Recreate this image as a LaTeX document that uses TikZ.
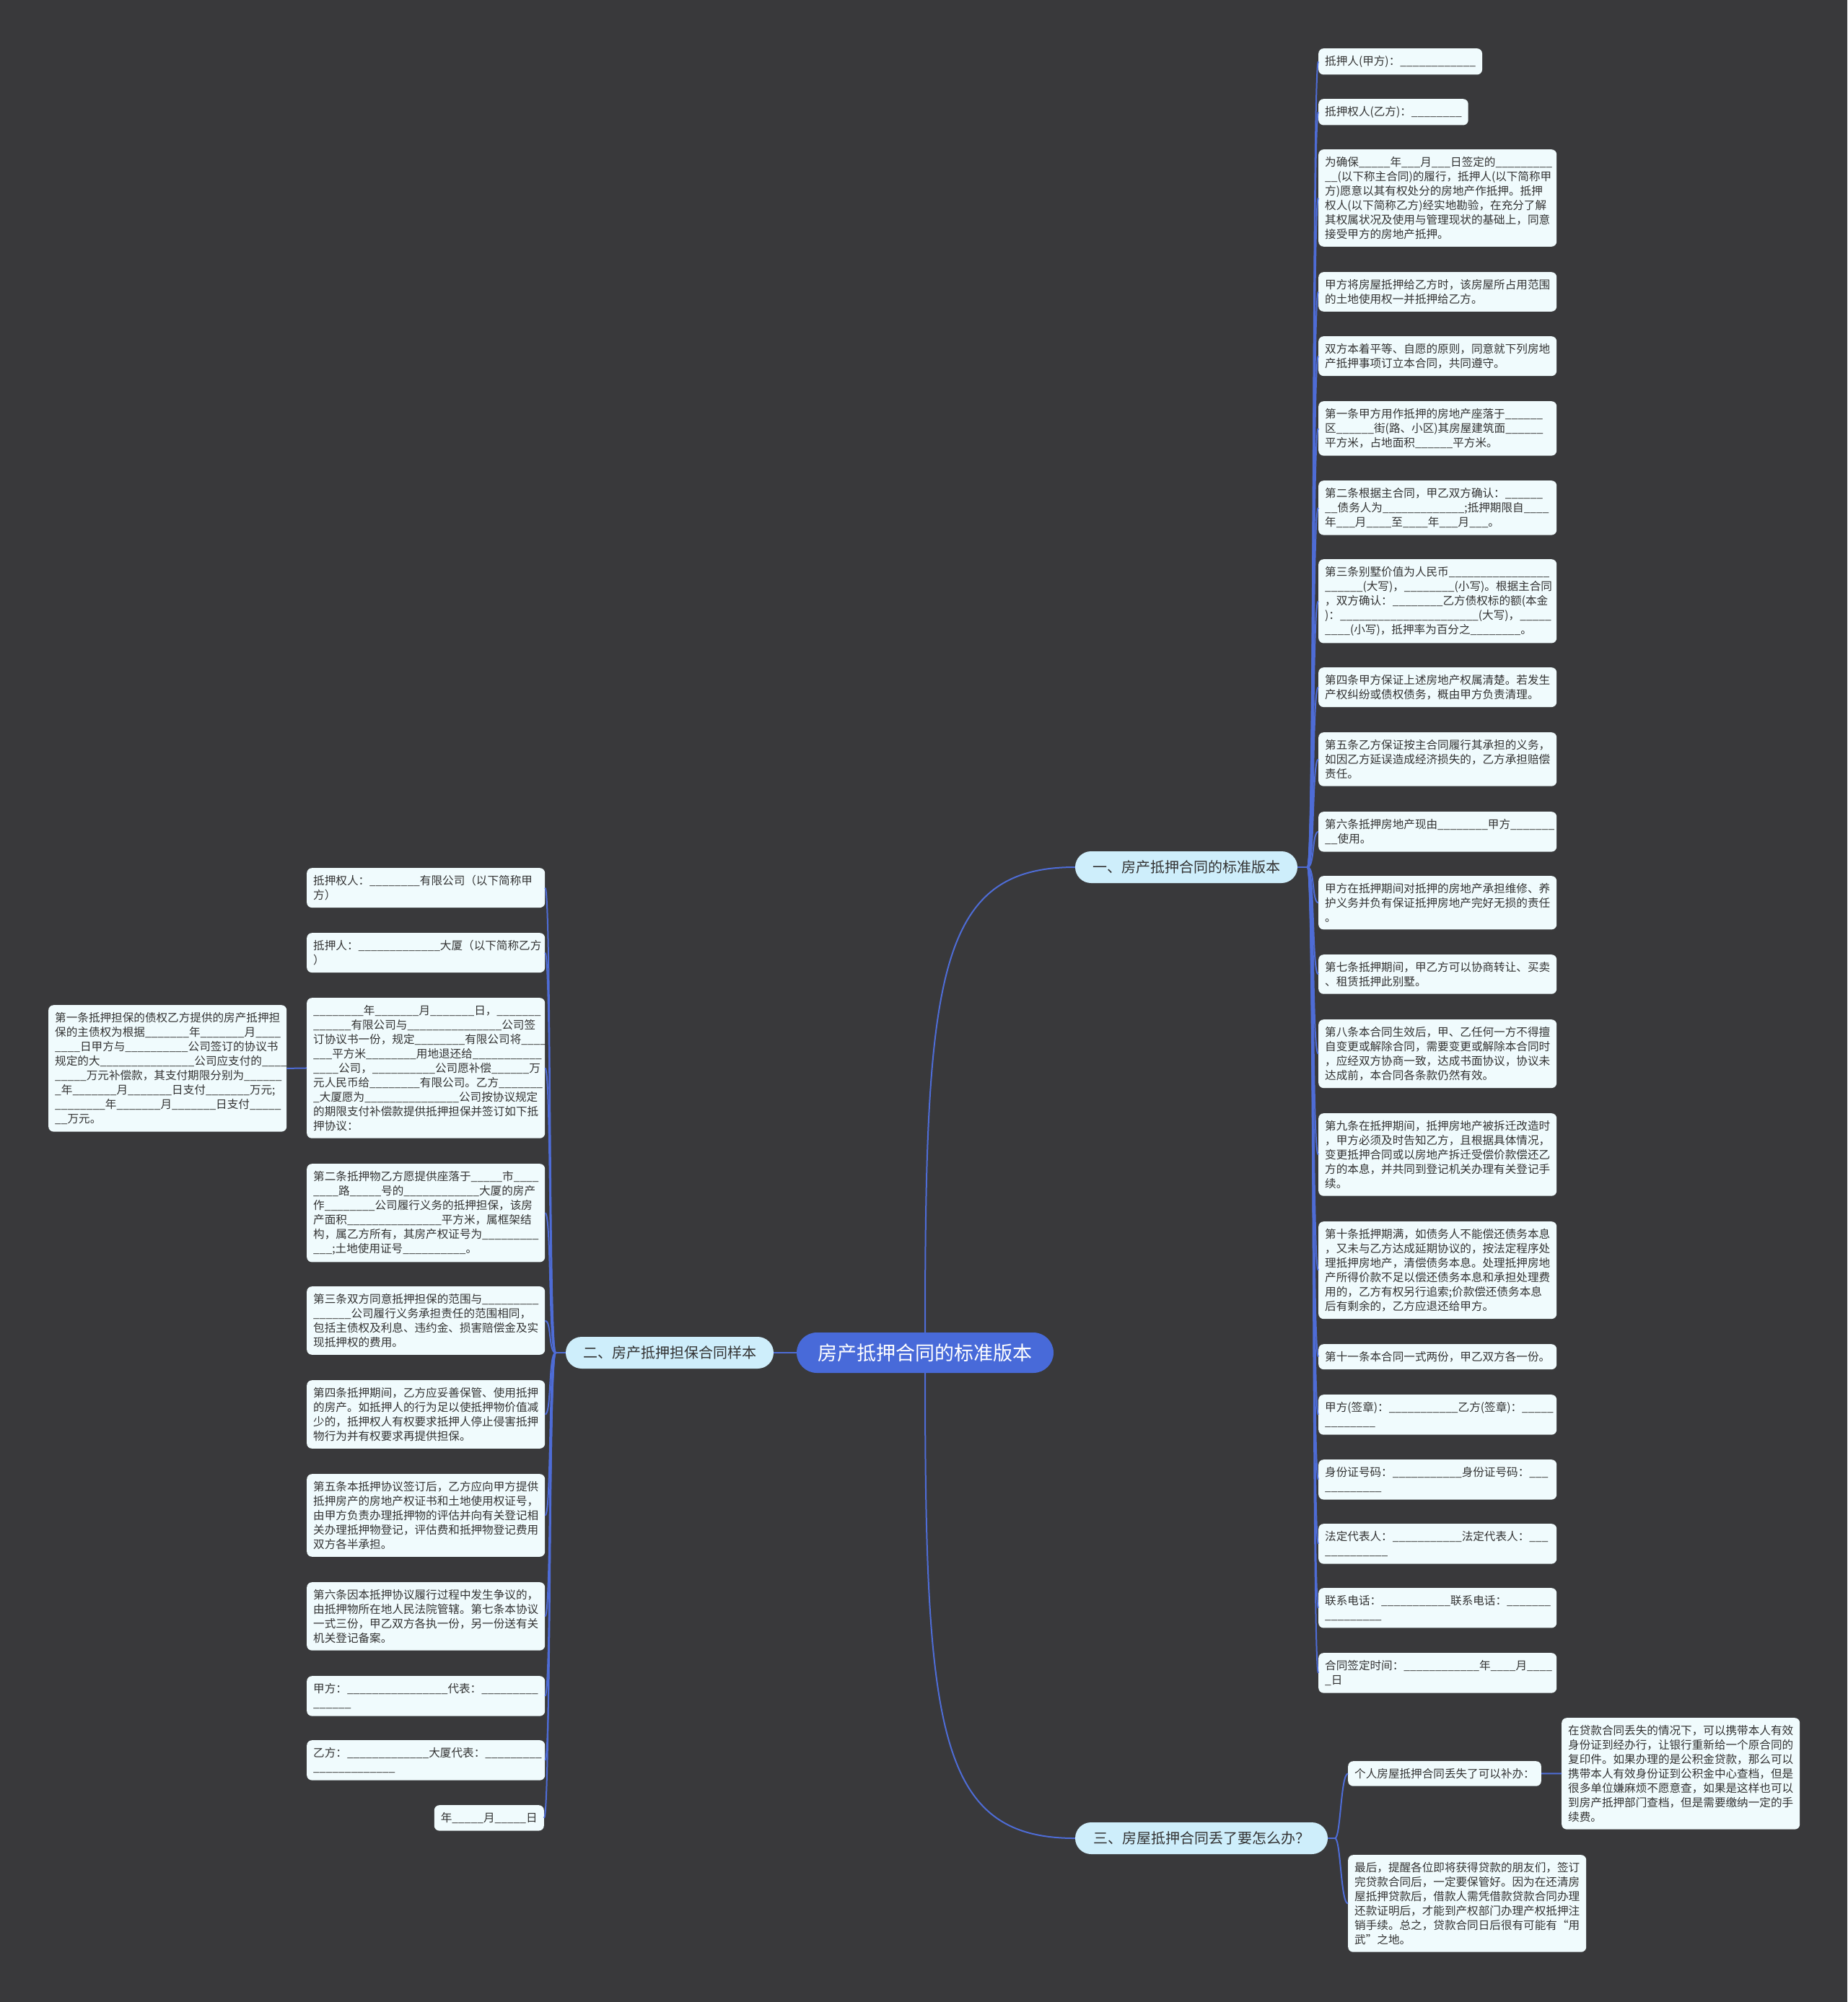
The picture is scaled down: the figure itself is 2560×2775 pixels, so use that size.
\documentclass[tikz,border=0pt]{standalone}
\usepackage{fontspec}
\setmainfont{Noto Sans CJK SC}
\definecolor{bgc}{RGB}{57,57,59}
\definecolor{leaffill}{RGB}{240,251,253}
\definecolor{topicfill}{RGB}{206,238,251}
\definecolor{centerfill}{RGB}{72,106,217}
\definecolor{linecol}{RGB}{78,108,214}
\definecolor{textcol}{RGB}{51,51,51}
\tikzset{
  leaf/.style={fill=leaffill, rounded corners=7pt, inner xsep=9pt, inner ysep=10pt,
    font=\fontsize{15.6}{20}\selectfont, text=textcol, anchor=north west},
  wide/.style={leaf, text width=312pt, align=left},
  topic/.style={fill=topicfill, rounded corners=22pt, minimum height=44pt, inner xsep=10pt,
    font=\fontsize{20}{24}\selectfont, text=textcol},
  centre/.style={fill=centerfill, rounded corners=28pt, minimum height=56pt, minimum width=356pt,
    font=\fontsize{27}{32}\selectfont, text=white},
  conn/.style={draw=linecol, line width=2pt}
}
\catcode`\_=12
\begin{document}
\begin{tikzpicture}[x=1pt,y=-1pt]
\fill[bgc] (0,0) rectangle (2560,2775);
\useasboundingbox (0,0) rectangle (2560,2775);

% centre and topics
\node[centre] (c) at (1282,1875) {房产抵押合同的标准版本};
\node[topic, minimum width=308pt] (t1) at (1644,1202) {一、房产抵押合同的标准版本};
\node[topic, minimum width=288pt] (t2) at (928,1875) {二、房产抵押担保合同样本};
\node[topic, minimum width=350pt] (t3) at (1665,2548) {三、房屋抵押合同丢了要怎么办？};

% right column
\node[leaf] (n1) at (1827,67) {抵押人(甲方)：____________};
\node[leaf] (n2) at (1827,137) {抵押权人(乙方)：________};
\node[wide] (n3) at (1827,207) {为确保_____年___月___日签定的_________\\__(以下称主合同)的履行，抵押人(以下简称甲\\方)愿意以其有权处分的房地产作抵押。抵押\\权人(以下简称乙方)经实地勘验，在充分了解\\其权属状况及使用与管理现状的基础上，同意\\接受甲方的房地产抵押。};
\node[wide] (n4) at (1827,377) {甲方将房屋抵押给乙方时，该房屋所占用范围\\的土地使用权一并抵押给乙方。};
\node[wide] (n5) at (1827,466) {双方本着平等、自愿的原则，同意就下列房地\\产抵押事项订立本合同，共同遵守。};
\node[wide] (n6) at (1827,556) {第一条甲方用作抵押的房地产座落于______\\区______街(路、小区)其房屋建筑面______\\平方米，占地面积______平方米。};
\node[wide] (n7) at (1827,666) {第二条根据主合同，甲乙双方确认：______\\__债务人为_____________;抵押期限自____\\年___月____至____年___月___。};
\node[wide] (n8) at (1827,775) {第三条别墅价值为人民币________________\\______(大写)，________(小写)。根据主合同\\，双方确认：________乙方债权标的额(本金\\)：______________________(大写)，_____\\____(小写)，抵押率为百分之________。};
\node[wide] (n9) at (1827,925) {第四条甲方保证上述房地产权属清楚。若发生\\产权纠纷或债权债务，概由甲方负责清理。};
\node[wide] (n10) at (1827,1015) {第五条乙方保证按主合同履行其承担的义务，\\如因乙方延误造成经济损失的，乙方承担赔偿\\责任。};
\node[wide] (n11) at (1827,1125) {第六条抵押房地产现由________甲方_______\\__使用。};
\node[wide] (n12) at (1827,1214) {甲方在抵押期间对抵押的房地产承担维修、养\\护义务并负有保证抵押房地产完好无损的责任\\。};
\node[wide] (n13) at (1827,1323) {第七条抵押期间，甲乙方可以协商转让、买卖\\、租赁抵押此别墅。};
\node[wide] (n14) at (1827,1413) {第八条本合同生效后，甲、乙任何一方不得擅\\自变更或解除合同，需要变更或解除本合同时\\，应经双方协商一致，达成书面协议，协议未\\达成前，本合同各条款仍然有效。};
\node[wide] (n15) at (1827,1543) {第九条在抵押期间，抵押房地产被拆迁改造时\\，甲方必须及时告知乙方，且根据具体情况，\\变更抵押合同或以房地产拆迁受偿价款偿还乙\\方的本息，并共同到登记机关办理有关登记手\\续。};
\node[wide] (n16) at (1827,1693) {第十条抵押期满，如债务人不能偿还债务本息\\，又未与乙方达成延期协议的，按法定程序处\\理抵押房地产，清偿债务本息。处理抵押房地\\产所得价款不足以偿还债务本息和承担处理费\\用的，乙方有权另行追索;价款偿还债务本息\\后有剩余的，乙方应退还给甲方。};
\node[wide] (n17) at (1827,1863) {第十一条本合同一式两份，甲乙双方各一份。};
\node[wide] (n18) at (1827,1933) {甲方(签章)：___________乙方(签章)：_____\\________};
\node[wide] (n19) at (1827,2023) {身份证号码：___________身份证号码：___\\_________};
\node[wide] (n20) at (1827,2112) {法定代表人：___________法定代表人：___\\__________};
\node[wide] (n21) at (1827,2201) {联系电话：___________联系电话：_______\\_________};
\node[wide] (n22) at (1827,2291) {合同签定时间：____________年____月____\\_日};

% left column
\node[wide] (l1) at (425,1203) {抵押权人：________有限公司（以下简称甲\\方）};
\node[wide] (l2) at (425,1293) {抵押人：_____________大厦（以下简称乙方\\）};
\node[wide] (l3) at (425,1383) {________年_______月_______日，_______\\______有限公司与_______________公司签\\订协议书一份，规定________有限公司将____\\___平方米________用地退还给___________\\____公司，__________公司愿补偿______万\\元人民币给________有限公司。乙方_______\\_大厦愿为_______________公司按协议规定\\的期限支付补偿款提供抵押担保并签订如下抵\\押协议：};
\node[wide] (l4) at (425,1613) {第二条抵押物乙方愿提供座落于_____市____\\____路_____号的____________大厦的房产\\作________公司履行义务的抵押担保，该房\\产面积_______________平方米，属框架结\\构，属乙方所有，其房产权证号为_________\\___;土地使用证号__________。};
\node[wide] (l5) at (425,1783) {第三条双方同意抵押担保的范围与_________\\______公司履行义务承担责任的范围相同，\\包括主债权及利息、违约金、损害赔偿金及实\\现抵押权的费用。};
\node[wide] (l6) at (425,1913) {第四条抵押期间，乙方应妥善保管、使用抵押\\的房产。如抵押人的行为足以使抵押物价值减\\少的，抵押权人有权要求抵押人停止侵害抵押\\物行为并有权要求再提供担保。};
\node[wide] (l7) at (425,2043) {第五条本抵押协议签订后，乙方应向甲方提供\\抵押房产的房地产权证书和土地使用权证号，\\由甲方负责办理抵押物的评估并向有关登记相\\关办理抵押物登记，评估费和抵押物登记费用\\双方各半承担。};
\node[wide] (l8) at (425,2193) {第六条因本抵押协议履行过程中发生争议的，\\由抵押物所在地人民法院管辖。第七条本协议\\一式三份，甲乙双方各执一份，另一份送有关\\机关登记备案。};
\node[wide] (l9) at (425,2323) {甲方：________________代表：_________\\______};
\node[wide] (l10) at (425,2412) {乙方：_____________大厦代表：_________\\_____________};
\node[leaf, anchor=north east] (l11) at (754,2502) {年_____月_____日};

% far left
\node[wide] (fl) at (67,1393) {第一条抵押担保的债权乙方提供的房产抵押担\\保的主债权为根据_______年_______月____\\____日甲方与__________公司签订的协议书\\规定的大_______________公司应支付的____\\_____万元补偿款，其支付期限分别为______\\_年_______月_______日支付_______万元;\\________年_______月_______日支付_____\\__万元。};

% topic three children
\node[leaf] (b1) at (1868,2441) {个人房屋抵押合同丢失了可以补办：};
\node[wide] (b1a) at (2164,2381) {在贷款合同丢失的情况下，可以携带本人有效\\身份证到经办行，让银行重新给一个原合同的\\复印件。如果办理的是公积金贷款，那么可以\\携带本人有效身份证到公积金中心查档，但是\\很多单位嫌麻烦不愿意查，如果是这样也可以\\到房产抵押部门查档，但是需要缴纳一定的手\\续费。};
\node[wide] (b2) at (1868,2571) {最后，提醒各位即将获得贷款的朋友们，签订\\完贷款合同后，一定要保管好。因为在还清房\\屋抵押贷款后，借款人需凭借款贷款合同办理\\还款证明后，才能到产权部门办理产权抵押注\\销手续。总之，贷款合同日后很有可能有“用\\武”之地。};

% connectors
\draw[conn] (c.north) .. controls (1282,1350) and (1300,1202) .. (t1.west);
\draw[conn] (c.south) .. controls (1282,2400) and (1300,2548) .. (t3.west);
\draw[conn] (c.west) -- (t2.east);

\coordinate (h1) at (1812,1202);
\draw[conn] (t1.east) -- (h1);
\foreach \n in {n1,n2,n3,n4,n5,n6,n7,n8,n9,n10,n11,n12,n13,n14,n15,n16,n17,n18,n19,n20,n21,n22}
  \draw[conn] (h1) .. controls +(10,0) and +(-9,0) .. (\n.west);

\coordinate (h2) at (770,1875);
\draw[conn] (t2.west) -- (h2);
\foreach \n in {l1,l2,l3,l4,l5,l6,l7,l8,l9,l10,l11}
  \draw[conn] (h2) .. controls +(-10,0) and +(9,0) .. (\n.east);
\draw[conn] (l3.west) -- (fl.east);

\coordinate (h3) at (1850,2548);
\draw[conn] (t3.east) -- (h3);
\foreach \n in {b1,b2}
  \draw[conn] (h3) .. controls +(8,0) and +(-10,0) .. (\n.west);
\draw[conn] (b1.east) -- (b1a.west);
\end{tikzpicture}
\end{document}
